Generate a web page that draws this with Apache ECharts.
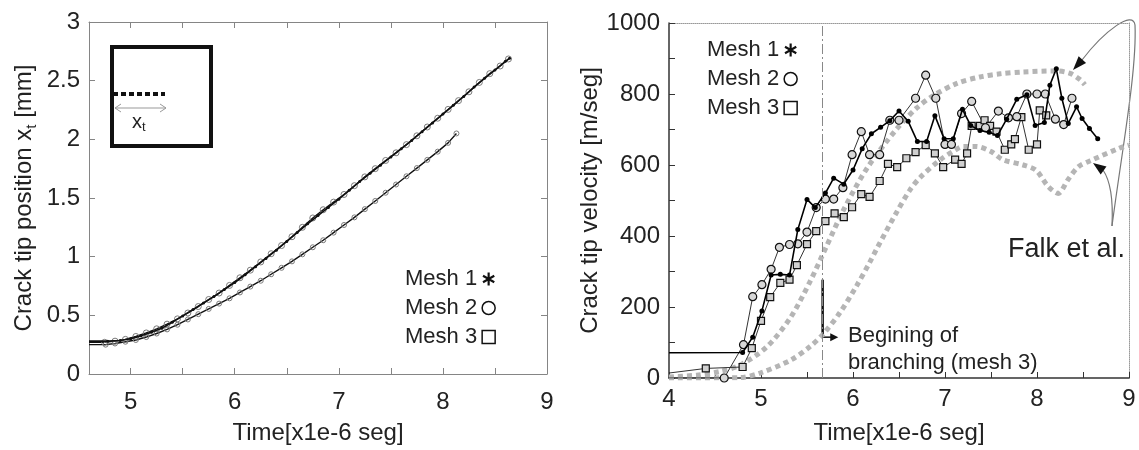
<!DOCTYPE html>
<html><head><meta charset="utf-8">
<script src="https://cdn.jsdelivr.net/npm/echarts@6/dist/echarts.min.js"></script>
<style>html,body{margin:0;padding:0;background:#fff}#chart{width:1139px;height:450px}</style>
</head><body><div id="chart"></div>
<script>
// ---------- Left panel: crack tip position [mm] vs time ----------
const posTime1 = [4.6, 4.78, 4.9, 5.0, 5.1, 5.2, 5.3, 5.4, 5.5, 5.6, 5.7, 5.8, 5.9, 6.0, 6.1, 6.2, 6.3, 6.4, 6.5, 6.6, 6.7, 6.8, 6.9, 7.0, 7.1, 7.2, 7.3, 7.4, 7.5, 7.6, 7.7, 7.8, 7.9, 8.0, 8.1, 8.2, 8.3, 8.4, 8.5, 8.6, 8.64];
const posMesh1 = [0.28, 0.28, 0.285, 0.30, 0.325, 0.355, 0.39, 0.44, 0.495, 0.55, 0.605, 0.66, 0.72, 0.78, 0.845, 0.915, 0.985, 1.055, 1.13, 1.205, 1.28, 1.35, 1.42, 1.49, 1.565, 1.64, 1.71, 1.78, 1.85, 1.92, 1.99, 2.065, 2.14, 2.215, 2.29, 2.365, 2.445, 2.52, 2.59, 2.665, 2.69];
const posTime2 = [4.6, 4.75, 4.85, 4.95, 5.05, 5.15, 5.25, 5.35, 5.45, 5.55, 5.65, 5.75, 5.85, 5.95, 6.05, 6.15, 6.25, 6.35, 6.45, 6.55, 6.65, 6.75, 6.85, 6.95, 7.05, 7.15, 7.25, 7.35, 7.45, 7.55, 7.65, 7.75, 7.85, 7.95, 8.05, 8.15, 8.25, 8.35, 8.45, 8.55, 8.63];
const posMesh2 = [0.27, 0.27, 0.28, 0.295, 0.32, 0.35, 0.385, 0.425, 0.47, 0.52, 0.575, 0.635, 0.69, 0.755, 0.82, 0.885, 0.955, 1.025, 1.095, 1.17, 1.25, 1.33, 1.40, 1.465, 1.53, 1.605, 1.68, 1.75, 1.82, 1.885, 1.955, 2.03, 2.105, 2.18, 2.255, 2.33, 2.405, 2.485, 2.56, 2.625, 2.685];
const posTime3 = [4.6, 4.76, 4.85, 4.95, 5.05, 5.15, 5.25, 5.35, 5.45, 5.55, 5.65, 5.75, 5.85, 5.95, 6.05, 6.15, 6.25, 6.35, 6.45, 6.55, 6.65, 6.75, 6.85, 6.95, 7.05, 7.15, 7.25, 7.35, 7.45, 7.55, 7.65, 7.75, 7.85, 7.95, 8.05, 8.13];
const posMesh3 = [0.25, 0.25, 0.26, 0.275, 0.29, 0.315, 0.345, 0.38, 0.42, 0.465, 0.51, 0.555, 0.60, 0.645, 0.695, 0.745, 0.795, 0.85, 0.905, 0.96, 1.02, 1.08, 1.14, 1.205, 1.27, 1.335, 1.405, 1.475, 1.545, 1.615, 1.685, 1.755, 1.825, 1.895, 1.97, 2.05];

// ---------- Right panel: crack tip velocity [m/seg] vs time ----------
const velTime1 = [4.0, 4.80, 4.91, 5.01, 5.11, 5.21, 5.31, 5.40, 5.50, 5.59, 5.70, 5.79, 5.90, 6.00, 6.10, 6.20, 6.30, 6.40, 6.50, 6.60, 6.70, 6.80, 6.89, 6.99, 7.09, 7.19, 7.28, 7.38, 7.48, 7.57, 7.67, 7.78, 7.89, 7.98, 8.08, 8.14, 8.21, 8.27, 8.34, 8.43, 8.49, 8.57, 8.66];
const velMesh1 = [71, 72, 115, 189, 290, 292, 290, 418, 503, 480, 521, 563, 546, 586, 646, 688, 706, 725, 752, 723, 666, 666, 739, 674, 674, 757, 711, 697, 692, 683, 729, 785, 798, 711, 720, 825, 871, 788, 717, 764, 731, 703, 674];
const velTime2 = [4.0, 4.60, 4.81, 4.91, 5.01, 5.11, 5.20, 5.31, 5.40, 5.50, 5.60, 5.70, 5.79, 5.89, 5.99, 6.09, 6.18, 6.29, 6.40, 6.50, 6.68, 6.79, 6.90, 7.00, 7.07, 7.18, 7.29, 7.44, 7.58, 7.69, 7.78, 7.89, 8.00, 8.09, 8.20, 8.29, 8.38];
const velMesh2 = [0, 0, 94, 229, 263, 306, 368, 376, 378, 411, 480, 504, 504, 536, 629, 694, 629, 629, 726, 726, 788, 853, 788, 658, 658, 745, 779, 705, 752, 733, 736, 800, 800, 800, 729, 714, 788];
const velTime3 = [4.0, 4.40, 4.80, 4.90, 5.00, 5.10, 5.21, 5.31, 5.39, 5.50, 5.60, 5.70, 5.80, 5.90, 5.99, 6.09, 6.18, 6.29, 6.38, 6.48, 6.58, 6.68, 6.79, 6.89, 6.98, 7.11, 7.18, 7.24, 7.29, 7.38, 7.43, 7.49, 7.56, 7.65, 7.72, 7.76, 7.83, 7.91, 8.00, 8.03, 8.10];
const velMesh3 = [14, 27, 31, 84, 161, 228, 268, 277, 318, 377, 414, 442, 464, 453, 481, 518, 510, 555, 603, 594, 619, 636, 656, 633, 594, 615, 603, 633, 710, 710, 726, 710, 694, 643, 658, 673, 735, 643, 658, 754, 740];
// Falk et al. reference curves (grey dotted)
const falkTimeA = [4.0, 4.3, 4.55, 4.77, 5.06, 5.32, 5.53, 5.71, 5.9, 6.15, 6.47, 6.69, 6.87, 7.13, 7.38, 7.6, 7.85, 8.21, 8.36, 8.47, 8.52];
const falkVelA  = [3, 8, 18, 36, 87, 170, 270, 370, 475, 590, 700, 760, 795, 830, 848, 857, 862, 865, 858, 840, 826];
const falkTimeB = [4.0, 4.77, 4.99, 5.32, 5.53, 5.68, 5.86, 6.04, 6.18, 6.26, 6.47, 6.62, 6.73, 6.95, 7.1, 7.2, 7.34, 7.5, 7.63, 7.85, 7.99, 8.12, 8.23, 8.34, 8.45, 8.58, 8.9, 9.0];
const falkVelB  = [0, 1, 14, 50, 88, 125, 185, 260, 325, 365, 465, 530, 565, 615, 640, 652, 652, 638, 615, 600, 585, 540, 520, 560, 595, 612, 648, 656];
const branchTime = 5.67;              // beginning of branching (mesh 3)
const branchArrowTop = 277, branchArrowBottom = 115, branchArrowEnd = 5.84;

// tick labels
const xTickLabelsLeft = [5, 6, 7, 8, 9];
const xTickLabelsRight = [4, 5, 6, 7, 8, 9];
const yTickLabelsLeft = [0, 0.5, 1, 1.5, 2, 2.5, 3];
const yTickLabelsRight = [0, 200, 400, 600, 800, 1000];

const FONT = '"Liberation Sans", Arial, Helvetica, sans-serif';
const TXT = '#222';
const near = (list, v) => list.some(t => Math.abs(t - v) < 1e-6);
const pairs = (ts, vs) => ts.map((t, i) => i === 0 ? { value: [t, vs[i]], symbol: 'none' } : [t, vs[i]]);
const starIcon = 'path://M5,0L7,0L7,12L5,12ZM10.696,2.134L11.696,3.866L1.304,9.866L0.304,8.134ZM11.696,8.134L10.696,9.866L0.304,3.866L1.304,2.134Z';

const chart = echarts.init(document.getElementById('chart'), null, { renderer: 'canvas' });

const lbl = (extra) => Object.assign({ fontSize: 24, color: TXT, fontFamily: FONT }, extra);
const nameStyle = { fontSize: 24, color: TXT, fontFamily: FONT };

const legendData = [
  { name: 'Mesh 1', icon: starIcon, itemStyle: { color: '#111', borderWidth: 0 } },
  { name: 'Mesh 2', icon: 'circle', itemStyle: { color: '#fff', borderColor: '#111', borderWidth: 1.5 } },
  { name: 'Mesh 3', icon: 'rect', itemStyle: { color: '#fff', borderColor: '#111', borderWidth: 1.5 } }
];
const legendCommon = {
  orient: 'vertical', align: 'right', itemGap: 7, itemWidth: 13, itemHeight: 13,
  selectedMode: false, textStyle: { fontSize: 22, color: TXT, fontFamily: FONT }, data: legendData
};

const option = {
  animation: false,
  backgroundColor: '#fff',
  grid: [
    { left: 89, top: 22, width: 458, height: 361 },
    { left: 669, top: 23, width: 460, height: 360 }
  ],
  legend: [
    Object.assign({ left: 400, top: 263 }, legendCommon),
    Object.assign({ left: 702, top: 34 }, legendCommon)
  ],
  xAxis: [
    { gridIndex: 0, type: 'value', position: 'bottom', min: 4.6, max: 9, splitNumber: 9, minInterval: 0.5, maxInterval: 0.5,
      axisLine: { show: true, onZero: false, lineStyle: { color: '#858585', width: 1 } },
      axisTick: { show: true, inside: true, length: 6, lineStyle: { color: '#858585' } },
      axisLabel: lbl({ margin: 16, formatter: v => near(xTickLabelsLeft, v) ? String(Math.round(v)) : '' }),
      splitLine: { show: false },
      name: 'Time[x1e-6 seg]', nameLocation: 'middle', nameGap: 47, nameTextStyle: nameStyle },
    { gridIndex: 0, type: 'value', position: 'top', min: 4.6, max: 9, splitNumber: 9, minInterval: 0.5, maxInterval: 0.5,
      axisLine: { show: true, onZero: false, lineStyle: { color: '#858585', width: 1 } },
      axisTick: { show: true, inside: true, length: 6, lineStyle: { color: '#858585' } },
      axisLabel: { show: false }, splitLine: { show: false } },
    { gridIndex: 1, type: 'value', position: 'bottom', min: 4, max: 9, interval: 0.5,
      axisLine: { show: true, onZero: false, lineStyle: { color: '#333', width: 1.5 } },
      axisTick: { show: true, inside: true, length: 6, lineStyle: { color: '#333' } },
      axisLabel: lbl({ margin: 9, formatter: v => near(xTickLabelsRight, v) ? String(Math.round(v)) : '' }),
      splitLine: { show: false },
      name: 'Time[x1e-6 seg]', nameLocation: 'middle', nameGap: 43, nameTextStyle: nameStyle },
    { gridIndex: 1, type: 'value', position: 'top', min: 4, max: 9, interval: 0.5,
      axisLine: { show: true, onZero: false, lineStyle: { color: '#999', width: 1, type: 'dotted' } },
      axisTick: { show: false }, axisLabel: { show: false }, splitLine: { show: false } }
  ],
  yAxis: [
    { gridIndex: 0, type: 'value', position: 'left', min: 0, max: 3, interval: 0.5,
      axisLine: { show: true, onZero: false, lineStyle: { color: '#858585', width: 1 } },
      axisTick: { show: true, inside: true, length: 6, lineStyle: { color: '#858585' } },
      axisLabel: lbl({ margin: 9, formatter: v => near(yTickLabelsLeft, v) ? String(v) : '' }),
      splitLine: { show: false },
      name: 'Crack tip position x{sub|t} [mm]', nameLocation: 'middle', nameGap: 50,
      nameTextStyle: Object.assign({ lineHeight: 30, rich: { sub: { fontSize: 15, fontFamily: FONT, color: TXT, verticalAlign: 'bottom' } } }, nameStyle) },
    { gridIndex: 0, type: 'value', position: 'right', min: 0, max: 3, interval: 0.5,
      axisLine: { show: true, onZero: false, lineStyle: { color: '#858585', width: 1 } },
      axisTick: { show: true, inside: true, length: 6, lineStyle: { color: '#858585' } },
      axisLabel: { show: false }, splitLine: { show: false } },
    { gridIndex: 1, type: 'value', position: 'left', min: 0, max: 1000, interval: 100,
      axisLine: { show: true, onZero: false, lineStyle: { color: '#333', width: 1.5 } },
      axisTick: { show: true, inside: true, length: 6, lineStyle: { color: '#333' } },
      axisLabel: lbl({ margin: 9, formatter: v => near(yTickLabelsRight, v) ? String(v) : '' }),
      splitLine: { show: false },
      name: 'Crack tip velocity [m/seg]', nameLocation: 'middle', nameGap: 55, nameTextStyle: nameStyle },
    { gridIndex: 1, type: 'value', position: 'right', min: 0, max: 1000, interval: 100,
      axisLine: { show: true, onZero: false, lineStyle: { color: '#999', width: 1, type: 'dotted' } },
      axisTick: { show: false }, axisLabel: { show: false }, splitLine: { show: false } }
  ],
  series: [
    // left panel
    { name: 'Mesh 3', type: 'line', xAxisIndex: 0, yAxisIndex: 0, data: pairs(posTime3, posMesh3),
      symbol: 'circle', symbolSize: 5, z: 3,
      itemStyle: { color: 'rgba(255,255,255,0)', borderColor: '#7a7a7a', borderWidth: 1 },
      lineStyle: { color: '#111', width: 1.4 } },
    { name: 'Mesh 2', type: 'line', xAxisIndex: 0, yAxisIndex: 0, data: pairs(posTime2, posMesh2),
      symbol: 'circle', symbolSize: 6, z: 3,
      itemStyle: { color: 'rgba(255,255,255,0)', borderColor: '#7a7a7a', borderWidth: 1 },
      lineStyle: { color: '#111', width: 1.4 } },
    { name: 'Mesh 1', type: 'line', xAxisIndex: 0, yAxisIndex: 0, data: pairs(posTime1, posMesh1),
      symbol: 'circle', symbolSize: 3, z: 4,
      itemStyle: { color: '#111' }, lineStyle: { color: '#111', width: 1.6 } },
    // right panel: reference curves
    { name: 'Falk A', type: 'line', xAxisIndex: 2, yAxisIndex: 2, data: falkTimeA.map((t, i) => [t, falkVelA[i]]),
      showSymbol: false, smooth: 0.3, z: 1, silent: true,
      lineStyle: { color: '#b5b5b5', width: 5, type: [5, 4], cap: 'butt' } },
    { name: 'Falk B', type: 'line', xAxisIndex: 2, yAxisIndex: 2, data: falkTimeB.map((t, i) => [t, falkVelB[i]]),
      showSymbol: false, smooth: 0.3, z: 1, silent: true,
      lineStyle: { color: '#b5b5b5', width: 5, type: [5, 4], cap: 'butt' },
      markLine: { silent: true, symbol: ['none', 'none'], label: { show: false },
        lineStyle: { color: '#888', width: 1, type: [10, 3, 2, 3] }, data: [{ xAxis: branchTime }] } },
    // right panel: meshes
    { name: 'Mesh 3', type: 'line', xAxisIndex: 2, yAxisIndex: 2, data: pairs(velTime3, velMesh3),
      symbol: 'rect', symbolSize: 7, z: 3,
      itemStyle: { color: '#d0d0d0', borderColor: '#111', borderWidth: 1.2 },
      lineStyle: { color: '#333', width: 1 } },
    { name: 'Mesh 2', type: 'line', xAxisIndex: 2, yAxisIndex: 2, data: pairs(velTime2, velMesh2),
      symbol: 'circle', symbolSize: 8, z: 3,
      itemStyle: { color: '#d8d8d8', borderColor: '#111', borderWidth: 1.2 },
      lineStyle: { color: '#333', width: 1 } },
    { name: 'Mesh 1', type: 'line', xAxisIndex: 2, yAxisIndex: 2, data: pairs(velTime1, velMesh1),
      symbol: 'circle', symbolSize: 5, z: 4,
      itemStyle: { color: '#000' }, lineStyle: { color: '#000', width: 1.6 } }
  ]
};
chart.setOption(option);

// ---------- annotations ----------
const p = (t, v) => chart.convertToPixel({ gridIndex: 1 }, [t, v]);
const bTop = p(branchTime, branchArrowTop), bBot = p(branchTime, branchArrowBottom), bEnd = p(branchArrowEnd, branchArrowBottom);
const tri = (tip, dx, dy, len, half) => {
  const n = Math.hypot(dx, dy); const ux = dx / n, uy = dy / n;
  const bx = tip[0] - ux * len, by = tip[1] - uy * len;
  return [[tip[0], tip[1]], [bx - uy * half, by + ux * half], [bx + uy * half, by - ux * half]];
};
const graphics = [
  // inset sketch in left panel
  { type: 'rect', shape: { x: 112, y: 47, width: 99, height: 99 }, style: { fill: 'none', stroke: '#111', lineWidth: 4 } },
  { type: 'line', shape: { x1: 113, y1: 94, x2: 165, y2: 94 }, style: { stroke: '#111', lineWidth: 4, lineDash: [5, 3] } },
  { type: 'line', shape: { x1: 115, y1: 108, x2: 166, y2: 108 }, style: { stroke: '#999', lineWidth: 1 } },
  { type: 'polyline', shape: { points: [[121, 104], [115, 108], [121, 112]] }, style: { stroke: '#999', lineWidth: 1, fill: 'none' } },
  { type: 'polyline', shape: { points: [[160, 104], [166, 108], [160, 112]] }, style: { stroke: '#999', lineWidth: 1, fill: 'none' } },
  { type: 'text', x: 132, y: 110, style: { text: 'x{s|t}', font: '20px ' + FONT, fill: TXT, lineHeight: 24,
      rich: { s: { fontSize: 13, fontFamily: FONT, fill: TXT, verticalAlign: 'bottom' } } } },
  // branching annotation
  { type: 'line', shape: { x1: bTop[0], y1: bTop[1], x2: bBot[0], y2: bBot[1] }, style: { stroke: '#111', lineWidth: 2.5 } },
  { type: 'line', shape: { x1: bBot[0], y1: bBot[1], x2: bEnd[0] - 6, y2: bEnd[1] }, style: { stroke: '#111', lineWidth: 1.5 } },
  { type: 'polygon', shape: { points: tri(bEnd, 1, 0, 8, 4) }, style: { fill: '#111' } },
  { type: 'text', x: 848, y: 322, style: { text: 'Begining of\nbranching (mesh 3)', font: '22px ' + FONT, fill: TXT, lineHeight: 27 } },
  // Falk et al. label & arrows
  { type: 'text', x: 1008, y: 236, style: { text: 'Falk et al.', font: '27px ' + FONT, fill: TXT } },
  { type: 'bezierCurve', shape: { x1: 1112, y1: 226, x2: 1135, y2: 25, cpx1: 1122, cpy1: 150, cpx2: 1137, cpy2: 70 }, style: { stroke: '#777', lineWidth: 1.2, fill: 'none' } },
  { type: 'bezierCurve', shape: { x1: 1135, y1: 25, x2: 1082, y2: 60, cpx1: 1133, cpy1: 10, cpx2: 1105, cpy2: 30 }, style: { stroke: '#777', lineWidth: 1.2, fill: 'none' } },
  { type: 'polygon', shape: { points: tri([1073, 70], -27, 30, 14, 5) }, style: { fill: '#111' } },
  { type: 'bezierCurve', shape: { x1: 1112, y1: 226, x2: 1103, y2: 170, cpx1: 1114, cpy1: 186 }, style: { stroke: '#777', lineWidth: 1.2, fill: 'none' } },
  { type: 'polygon', shape: { points: tri([1093, 163], -14, -10, 13, 5) }, style: { fill: '#111' } }
];
chart.setOption({ graphic: graphics });
</script></body></html>
